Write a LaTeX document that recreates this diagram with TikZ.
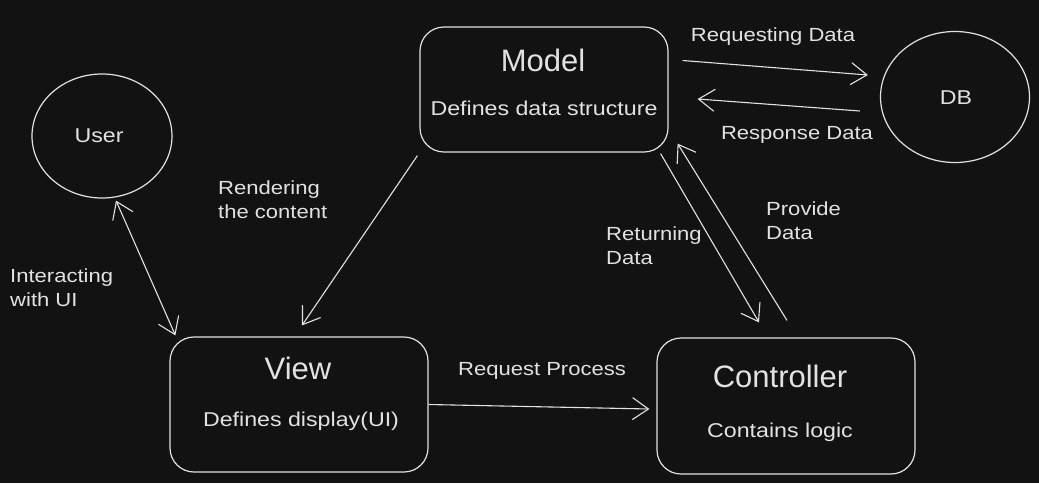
\documentclass[tikz,border=0pt]{standalone}
\usepackage{fontspec}
\setmainfont{Liberation Sans}
\newfontfamily\widefont[FakeStretch=1.16]{Liberation Sans}
\usetikzlibrary{arrows.meta,shapes.geometric}
\definecolor{bg}{HTML}{121212}
\definecolor{ink}{HTML}{E2E2E2}
\tikzset{
  box/.style={draw=ink, line width=1.2pt, rounded corners=24pt, rectangle, minimum width=#1, inner sep=0pt},
  circ/.style={draw=ink, line width=1.2pt, ellipse, inner sep=0pt},
  title/.style={text=ink, font=\fontsize{31}{34}\selectfont, inner sep=0pt},
  body/.style={text=ink, font=\widefont\fontsize{20}{24}\selectfont, inner sep=0pt},
  lbl/.style={text=ink, font=\widefont\fontsize{19}{24}\selectfont, inner sep=0pt, align=left},
  conn/.style={draw=ink, line width=1.1pt, -{Straight Barb[length=16pt,width=22pt,line width=1.1pt]}},
  conn2/.style={draw=ink, line width=1.1pt, {Straight Barb[length=16pt,width=22pt,line width=1.1pt]}-{Straight Barb[length=16pt,width=22pt,line width=1.1pt]}},
}
\begin{document}
\begin{tikzpicture}[x=1pt,y=-1pt]
\fill[bg] (0,0) rectangle (1039,483);
\useasboundingbox (0,0) rectangle (1039,483);
% boxes
\node[box=248pt, minimum height=125pt] (model) at (544,89.5) {};
\node[box=258pt, minimum height=135pt] (view) at (299,404.5) {};
\node[box=258pt, minimum height=136pt] (ctrl) at (786,406) {};
\node[circ, minimum width=140pt, minimum height=124pt] (user) at (102,136) {};
\node[circ, minimum width=149pt, minimum height=131pt] (db) at (955,97) {};
% texts
\node[title] (mt) at (543,60) {Model};
\node[body] (md) at (544,108) {Defines data structure};
\node[title] (vt) at (298,368) {View};
\node[body] (vd) at (301,421) {Defines display(UI)};
\node[title] (ct) at (780,376) {Controller};
\node[body] (cd) at (780,432) {Contains logic};
\node[body] (ut) at (99,136) {User};
\node[body] (dt) at (956,98) {DB};
% labels
\node[lbl] (l1) at (773,37) {Requesting Data};
\node[lbl] (l2) at (797,135) {Response Data};
\node[lbl, anchor=west] (l3) at (218,200) {Rendering\\the content};
\node[lbl, anchor=west] (l4) at (10,288) {Interacting\\with UI};
\node[lbl, anchor=west] (l5) at (606,246) {Returning\\Data};
\node[lbl, anchor=west] (l6) at (766,221) {Provide\\Data};
\node[lbl] (l7) at (542,371) {Request Process};
% connectors
\draw[conn] ([shift={(14,-29)}]model.east) -- ([shift={(-12,-22)}]db.west);
\draw[conn] ([shift={(-20,14)}]db.west) -- ([shift={(29,9.5)}]model.east);
\draw[conn] ([shift={(-2,3)}]model.south west) -- ([shift={(3,-11)}]view.north);
\draw[conn2] ([shift={(14,2)}]user.south) -- ([shift={(6,-1)}]view.north west);
\draw[conn] (view.east) -- ([shift={(-7,3)}]ctrl.west);
\draw[conn] ([shift={(-8,1)}]model.south east) -- ([shift={(-27,-15)}]ctrl.north);
\draw[conn] ([shift={(1,-17)}]ctrl.north) -- ([shift={(9,-9)}]model.south east);
\end{tikzpicture}
\end{document}
